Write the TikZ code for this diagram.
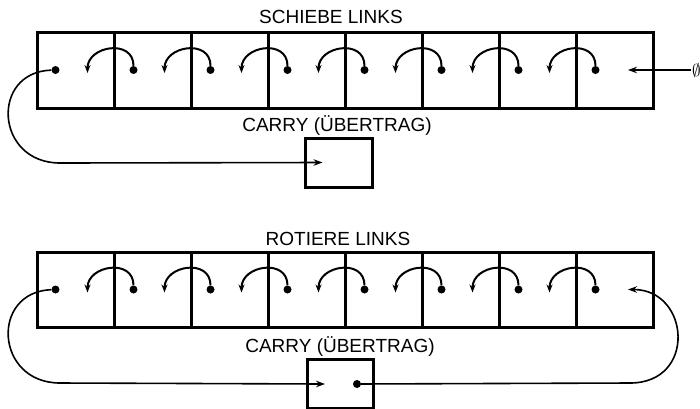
\documentclass[tikz,border=0pt]{standalone}
\usepackage{fontspec}
\setmainfont{Liberation Sans}
\usetikzlibrary{positioning, arrows.meta}

\begin{document}
\begin{tikzpicture}[x=1pt,y=-1pt,node distance=77pt,on grid,
  cell/.style={draw,line width=3pt,minimum width=77pt,minimum height=76pt,inner sep=0pt},
  carrybox/.style={draw,line width=3pt,minimum width=67pt,minimum height=49pt,inner sep=0pt},
  dot/.style={circle,fill,inner sep=0pt,minimum size=8pt},
  lab/.style={font=\fontsize{19}{22}\selectfont,inner sep=0pt},
  hop/.style={line width=2pt,-{Stealth[length=8pt,width=6pt]}},
  wire/.style={line width=1.6pt,-{Stealth[length=9pt,width=6.5pt]}}]
  \useasboundingbox (0,0) rectangle (700,408);

  % schiebe links
  \node[lab] (t1) at (331,17) {SCHIEBE LINKS};
  \node[cell] (s1) at (75.5,70) {};
  \foreach \i [count=\j from 1] in {2,...,8}
    \node[cell] (s\i) [right=of s\j] {};
  \node[lab] (k1) at (337,126) {CARRY (ÜBERTRAG)};
  \node[carrybox] (c1) at (338.5,162.5) {};
  \coordinate (cin1) at ([xshift=-16pt]c1.center);
  \node[dot] (sd1) at ([xshift=-20pt]s1.center) {};
  \foreach \i [count=\j from 1] in {2,...,8} {
    \node[dot] (sd\i) at ([xshift=-19pt]s\i.center) {};
    \coordinate (st\j) at ([xshift=12pt,yshift=-3pt]s\j.center);
    \draw[hop] (sd\i) to[out=90,in=90,looseness=1.5] (st\j);
  }
  \coordinate (st8) at ([xshift=13.5pt]s8.center);
  \node[anchor=west,inner sep=1pt,font=\fontsize{19}{22}\selectfont] (zero) at (691,70) {$\emptyset$};
  \draw[wire] (sd1) .. controls (-10,72) and (-5,163) .. (60,163) -- (cin1);
  \draw[wire] (zero) -- (st8);

  % rotiere links
  \node[lab] (t2) at (338,239) {ROTIERE LINKS};
  \node[cell,minimum height=75pt] (r1) at (75.5,289.5) {};
  \foreach \i [count=\j from 1] in {2,...,8}
    \node[cell,minimum height=75pt] (r\i) [right=of r\j] {};
  \node[lab] (k2) at (340,347) {CARRY (ÜBERTRAG)};
  \node[carrybox,minimum width=66pt] (c2) at (340,384) {};
  \coordinate (cin2) at ([xshift=-15pt]c2.center);
  \node[dot] (cd2) at ([xshift=17pt]c2.center) {};
  \node[dot] (rd1) at ([xshift=-20pt]r1.center) {};
  \foreach \i [count=\j from 1] in {2,...,8} {
    \node[dot] (rd\i) at ([xshift=-19pt]r\i.center) {};
    \coordinate (rt\j) at ([xshift=12pt,yshift=-3pt]r\j.center);
    \draw[hop] (rd\i) to[out=90,in=90,looseness=1.5] (rt\j);
  }
  \coordinate (rt8) at ([xshift=13.5pt]r8.center);
  \draw[wire] (rd1) .. controls (-10,292) and (-5,383) .. (60,383) -- (cin2);
  \draw[wire] (cd2) -- (630,383) .. controls (697,383) and (690,289.5) .. (rt8);
\end{tikzpicture}
\end{document}
